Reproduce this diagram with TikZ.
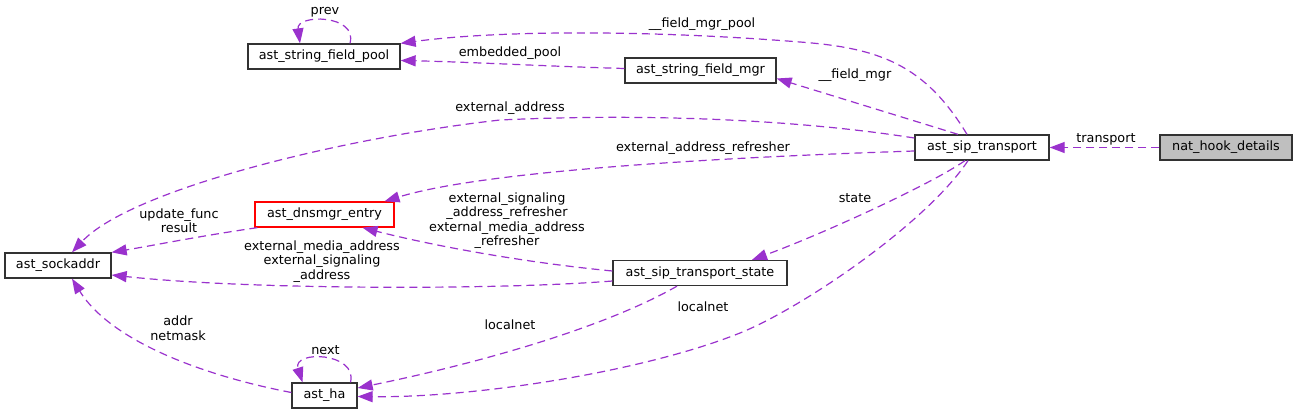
\documentclass[tikz,border=0pt]{standalone}
\usepackage{fontspec}
\setmainfont{DejaVu Sans}
\usetikzlibrary{arrows.meta}
\definecolor{edgec}{RGB}{154,50,205}
\definecolor{boxc}{RGB}{50,50,50}
\definecolor{hl}{RGB}{191,191,191}
\begin{document}
\begin{tikzpicture}[x=1pt,y=-1pt,
  every node/.style={font=\fontsize{12.8}{14.5}\selectfont},
  cls/.style={draw=boxc, line width=1.3pt, rectangle, inner sep=0pt, minimum height=25pt, text height=9.5pt, text depth=3pt},
  edge/.style={draw=edgec, line width=1.2pt, dash pattern=on 8pt off 5pt, -{Triangle[length=15pt,width=11pt]}},
  lbl/.style={inner sep=0pt, text height=9.5pt, text depth=3pt},
  mlbl/.style={inner sep=0pt, align=center}]
\useasboundingbox (0,0) rectangle (1297,415);

% classes
\node[cls, minimum width=152pt] (pool) at (324,56.5) {ast\_string\_field\_pool};
\node[cls, minimum width=151pt] (mgr) at (700.5,70.5) {ast\_string\_field\_mgr};
\node[cls, minimum width=134pt] (tr) at (982,147.5) {ast\_sip\_transport};
\node[cls, minimum width=132pt, fill=hl] (nat) at (1226,147.5) {nat\_hook\_details};
\node[cls, draw=red, minimum width=139pt] (dns) at (324.5,214.5) {ast\_dnsmgr\_entry};
\node[cls, minimum width=106pt] (sock) at (58,265.5) {ast\_sockaddr};
\node[cls, minimum width=174pt] (state) at (700,273) {ast\_sip\_transport\_state};
\node[cls, minimum width=65pt] (ha) at (324.5,395.5) {ast\_ha};

% edges
\draw[edge] (nat.west) -- (tr.east);
\node[lbl] (l1) at (1106,139) {transport};

\draw[edge] ([xshift=-15pt]tr.north) .. controls (925,65) and (880,48) .. (800,42)
  .. controls (650,30) and (500,30) .. (pool.north east);
\node[lbl] (l2) at (702,24) {\_\_field\_mgr\_pool};

\draw[edge] ([xshift=-24pt]tr.north) -- ([yshift=-8pt]mgr.east);
\node[lbl] (l3) at (855,75) {\_\_field\_mgr};

\draw[edge] ([yshift=2pt]mgr.west) .. controls (540,66) and (470,62) .. ([yshift=-4pt]pool.east);
\node[lbl] (l4) at (510,53) {embedded\_pool};

\draw[edge] ([xshift=26pt]pool.north) .. controls (358,14) and (296,14) .. ([xshift=-24pt]pool.north);
\node[lbl] (l5) at (325,11) {prev};

\draw[edge] ([yshift=9.5pt]tr.west) .. controls (800,120) and (650,113) .. (500,120)
  .. controls (340,138) and (130,190) .. ([xshift=14pt]sock.north);
\node[lbl] (l6) at (510,108) {external\_address};

\draw[edge] ([yshift=-3.5pt]tr.west) .. controls (700,158) and (480,172) .. ([xshift=60pt]dns.north);
\node[lbl] (l7) at (703,148) {external\_address\_refresher};

\draw[edge] ([xshift=-17pt]tr.south) .. controls (930,185) and (820,235) .. ([xshift=52pt]state.north);
\node[lbl] (l8) at (855,199) {state};

\draw[edge] ([xshift=-14pt]tr.south) .. controls (925,225) and (800,309) .. (740,333)
  .. controls (640,373) and (470,398) .. ([yshift=-1pt]ha.east);
\node[lbl] (l9) at (703,308) {localnet};

\draw[edge] ([xshift=3pt]dns.south west) .. controls (200,236) and (150,246) .. (sock.north east);
\node[mlbl] (l10) at (179,220.5) {update\_func\\result};

\draw[edge] ([yshift=2pt]state.west) .. controls (520,262) and (430,245) .. ([xshift=38pt]dns.south);
\node[mlbl] (l11) at (507,220.5) {external\_signaling\\\_address\_refresher\\external\_media\_address\\\_refresher};

\draw[edge] ([yshift=-8pt]state.west) .. controls (500,290) and (250,290) .. ([yshift=-9.5pt]sock.east);
\node[mlbl] (l12) at (322,261.5) {external\_media\_address\\external\_signaling\\\_address};

\draw[edge] ([xshift=-23pt]state.south) .. controls (600,330) and (470,365) .. ([yshift=7.5pt]ha.east);
\node[lbl] (l13) at (510,326) {localnet};

\draw[edge] ([yshift=3pt]ha.west) .. controls (200,375) and (110,340) .. ([xshift=14pt]sock.south);
\node[mlbl] (l14) at (178,328) {addr\\netmask};

\draw[edge] ([xshift=26pt]ha.north) .. controls (358,352) and (292,350) .. ([xshift=-22pt]ha.north);
\node[lbl] (l15) at (325.5,351) {next};
\end{tikzpicture}
\end{document}
